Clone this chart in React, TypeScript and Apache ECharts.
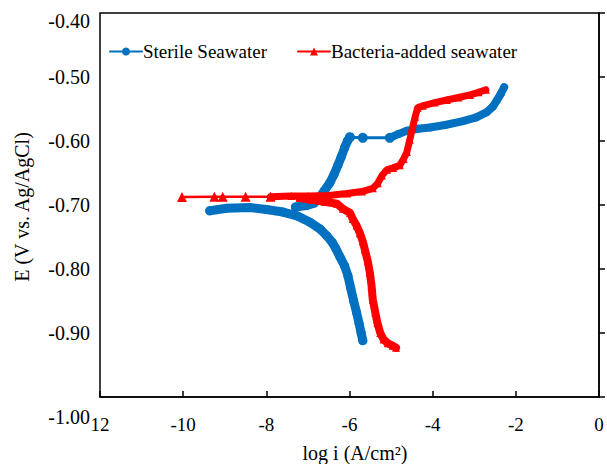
import React, { useEffect, useRef } from "react";
import * as echarts from "echarts";

const xTicks = [-12, -10, -8, -6, -4, -2, 0];
const yTicks = [-1.0, -0.9, -0.8, -0.7, -0.6, -0.5, -0.4];

const sterileCathodic: number[][] = [
  [-5.68, -0.912], [-5.72, -0.9], [-5.77, -0.885], [-5.83, -0.868], [-5.9, -0.85],
  [-5.97, -0.83], [-6.04, -0.81], [-6.12, -0.795], [-6.23, -0.781], [-6.33, -0.768],
  [-6.42, -0.758], [-6.55, -0.748], [-6.7, -0.738], [-6.95, -0.727], [-7.26, -0.717],
  [-7.6, -0.711], [-8.0, -0.707], [-8.4, -0.704], [-8.95, -0.705], [-9.36, -0.709],
];
const sterileAnodicLow: number[][] = [
  [-7.3, -0.703], [-7.05, -0.701], [-6.85, -0.697], [-6.72, -0.688], [-6.6, -0.677],
  [-6.47, -0.665], [-6.37, -0.652], [-6.28, -0.638], [-6.2, -0.625], [-6.12, -0.611],
  [-6.05, -0.6], [-5.99, -0.594],
];
const sterilePlateau: number[][] = [
  [-5.99, -0.594], [-5.68, -0.595], [-5.03, -0.595],
];
const sterileAnodicHigh: number[][] = [
  [-5.03, -0.595], [-4.82, -0.589], [-4.62, -0.584], [-4.35, -0.581], [-4.07, -0.579],
  [-3.7, -0.575], [-3.27, -0.569], [-2.95, -0.563], [-2.7, -0.555], [-2.55, -0.546],
  [-2.45, -0.536], [-2.36, -0.526], [-2.28, -0.516],
];

const bacteriaThin: number[][] = [
  [-10.03, -0.6875], [-9.25, -0.687], [-9.05, -0.687], [-8.5, -0.687], [-7.9, -0.687],
];
const bacteriaAnodic: number[][] = [
  [-7.9, -0.687], [-7.4, -0.686], [-7.0, -0.686], [-6.5, -0.685], [-6.06, -0.682],
  [-5.7, -0.679], [-5.44, -0.674], [-5.32, -0.666], [-5.22, -0.654], [-5.1, -0.645],
  [-4.95, -0.642], [-4.79, -0.638], [-4.7, -0.628], [-4.62, -0.617], [-4.55, -0.598],
  [-4.48, -0.578], [-4.42, -0.562], [-4.36, -0.548], [-4.24, -0.545], [-3.95, -0.54],
  [-3.66, -0.536], [-3.38, -0.532], [-3.1, -0.528], [-2.9, -0.524], [-2.72, -0.52],
];
const bacteriaCathodic: number[][] = [
  [-7.2, -0.689], [-6.9, -0.692], [-6.6, -0.695], [-6.3, -0.698], [-6.16, -0.706],
  [-5.99, -0.712], [-5.92, -0.722], [-5.83, -0.732], [-5.75, -0.744], [-5.68, -0.757],
  [-5.63, -0.77], [-5.56, -0.788], [-5.51, -0.806], [-5.47, -0.826], [-5.44, -0.848],
  [-5.38, -0.868], [-5.33, -0.884], [-5.26, -0.9], [-5.18, -0.91], [-5.08, -0.916],
  [-4.96, -0.92], [-4.88, -0.923],
];

const BLUE = "#0070C0";
const RED = "#FF0000";
const FONT = "Liberation Serif";

export default function App() {
  const ref = useRef<HTMLDivElement>(null);
  useEffect(() => {
    if (!ref.current) return;
    const chart = echarts.init(ref.current, null, { renderer: "svg" });
    const blueSeries = (data: number[][], lw: number, size: number) => ({
      name: "Sterile Seawater",
      type: "line",
      data,
      symbol: "circle",
      symbolSize: size,
      showSymbol: size > 0,
      lineStyle: { color: BLUE, width: lw, cap: "round", join: "round" },
      itemStyle: { color: BLUE },
      z: 2,
    });
    const redSeries = (data: number[][], lw: number, size: number) => ({
      name: "Bacteria-added seawater",
      type: "line",
      data,
      symbol: "triangle",
      symbolSize: size,
      showSymbol: size > 0,
      lineStyle: { color: RED, width: lw, cap: "round", join: "round" },
      itemStyle: { color: RED },
      z: 3,
    });
    chart.setOption({
      animation: false,
      backgroundColor: "#fff",
      textStyle: { fontFamily: FONT },
      grid: {
        left: 100, top: 13, width: 499, height: 384,
        show: true, borderColor: "#000", borderWidth: 1.5, backgroundColor: "transparent",
      },
      legend: {
        left: 104, top: 37,
        itemWidth: 32, itemHeight: 10, itemGap: 30,
        textStyle: { fontFamily: FONT, fontSize: 19, color: "#000", padding: [0, 0, 0, -4] },
        data: ["Sterile Seawater", "Bacteria-added seawater"],
      },
      xAxis: {
        type: "value",
        min: xTicks[0], max: xTicks[xTicks.length - 1], interval: 2,
        axisLine: { show: true, lineStyle: { color: "#000", width: 1.5 } },
        axisTick: { show: true, inside: true, length: 6, lineStyle: { color: "#000", width: 1.5 } },
        splitLine: { show: false },
        axisLabel: {
          margin: 18, fontFamily: FONT, fontSize: 19, color: "#000",
          formatter: (v: number) => (v === -12 ? "12" : String(v)),
        },
      },
      yAxis: {
        type: "value",
        min: yTicks[0], max: yTicks[yTicks.length - 1], interval: 0.1,
        axisLine: { show: true, lineStyle: { color: "#000", width: 1.5 } },
        axisTick: { show: true, inside: true, length: 6, lineStyle: { color: "#000", width: 1.5 } },
        splitLine: { show: false },
        axisLabel: {
          margin: 10, fontFamily: FONT, fontSize: 20, color: "#000",
          formatter: (v: number) => {
            const s = v.toFixed(2);
            if (Math.abs(v + 0.4) < 1e-6) return "{t|" + s + "}";
            if (Math.abs(v + 1.0) < 1e-6) return "{b|" + s + "}";
            return s;
          },
          rich: {
            t: { fontFamily: FONT, fontSize: 20, color: "#000", padding: [16, 0, 0, 0] },
            b: { fontFamily: FONT, fontSize: 20, color: "#000", padding: [40, 0, 0, 0] },
          },
        },
      },
      graphic: [
        {
          type: "text", x: 355, y: 453,
          style: { text: "log i (A/cm²)", fontFamily: FONT, fontSize: 20, fill: "#000", align: "center", verticalAlign: "middle" },
        },
        {
          type: "text", x: 22, y: 207, rotation: Math.PI / 2,
          style: { text: "E (V vs. Ag/AgCl)", fontFamily: FONT, fontSize: 20, fill: "#000", align: "center", verticalAlign: "middle" },
        },
      ],
      series: [
        blueSeries(sterileCathodic, 9, 9),
        blueSeries(sterileAnodicLow, 9, 9),
        blueSeries(sterilePlateau, 3, 10),
        blueSeries(sterileAnodicHigh, 8, 8),
        redSeries(bacteriaThin, 2.5, 10),
        redSeries(bacteriaAnodic, 7, 8),
        redSeries(bacteriaCathodic, 8, 8),
      ],
    });
    return () => chart.dispose();
  }, []);
  return <div ref={ref} style={{ position: "absolute", left: 0, top: 0, width: 607, height: 464 }} />;
}
